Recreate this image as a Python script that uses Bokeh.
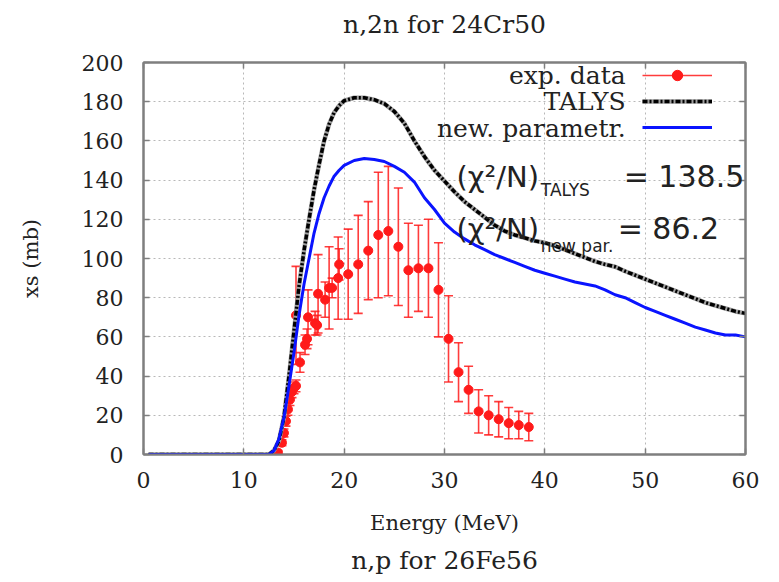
from bokeh.plotting import figure
from bokeh.models import (Range1d, FixedTicker, LinearAxis, Legend, LegendItem,
                          Label, Title)
from bokeh.embed import file_html
from bokeh.resources import INLINE

# ---------------- data ----------------
exp_energy = [13.4, 13.8, 14.0, 14.2, 14.4, 14.6, 14.8, 15.0, 15.2, 15.2, 15.6,
              16.1, 16.3, 16.4, 17.1, 17.3, 17.4, 18.1, 18.5, 18.8, 19.4, 19.5,
              20.4, 21.4, 22.4, 23.4, 24.4, 25.4, 26.4, 27.4, 28.4, 29.4, 30.4,
              31.4, 32.4, 33.4, 34.4, 35.4, 36.4, 37.4, 38.4]
exp_xs = [1, 6, 11, 17, 23, 28, 32, 34, 35, 71, 47,
          56, 59, 70, 67, 66, 82, 79, 85, 85, 90, 97,
          92, 97, 104, 112, 114, 106, 94, 95, 95, 84, 59,
          42, 33, 22, 20, 18, 16, 15, 14]
exp_err = [1, 1.5, 2, 2.5, 3, 3, 3, 3, 3, 25, 5,
           5, 5, 14, 6, 5, 20, 9, 21, 5, 21, 8,
           23, 25, 25, 32, 33, 30, 24, 22, 25, 24, 22,
           15, 12, 11, 10, 9, 8, 7, 7]

talys_energy = [0.5, 5, 10, 12.5, 13.0, 13.5, 14.0, 14.5, 15.0, 15.5, 16.0, 16.5,
                17.0, 17.5, 18.0, 18.5, 19.0, 19.5, 20.0, 21.0, 22.0, 23.0, 24.0,
                25.0, 26.0, 27.0, 28.0, 29.0, 30.0, 31.0, 32.0, 33.0, 34.0, 35.0,
                36.0, 37.0, 38.0, 39.0, 40.0, 41.0, 42.0, 43.0, 44.0, 45.0, 46.0,
                47.0, 48.0, 49.0, 50.0, 51.0, 52.0, 53.0, 54.0, 55.0, 56.0, 57.0,
                58.0, 59.0, 60.0]
talys_xs = [0, 0, 0, 0, 2, 7, 19, 40, 63, 86, 104, 120,
            135, 148, 160, 168.5, 174.5, 178, 180.5, 182, 182, 181, 179,
            175, 169, 160, 152, 145, 139.5, 134, 129, 125, 121, 117,
            114, 112, 110.5, 109, 108, 106.5, 104.5, 102.5, 100.5, 98.5, 97,
            95.8, 93.5, 91.5, 89.5, 87.5, 85.5, 83.5, 81.5, 79.5, 77.5, 76,
            74.5, 73, 72]

newpar_energy = talys_energy
newpar_xs = [0, 0, 0, 0, 2, 8, 19, 35, 52, 71, 87, 100,
             113, 123, 131, 137, 142, 145, 147.5, 150, 151, 150.5, 149.5,
             147, 144, 139, 131, 125, 118, 113.5, 110, 107, 104.5, 102,
             100, 98, 96, 94, 92.5, 91, 89.5, 88, 87, 86, 84,
             81.5, 80, 77.5, 75, 73, 71, 69, 67, 65, 63.5, 62,
             61, 61, 60]

x_ticks = [0, 10, 20, 30, 40, 50, 60]
y_ticks = [0, 20, 40, 60, 80, 100, 120, 140, 160, 180, 200]

exp_lo = [v - e for v, e in zip(exp_xs, exp_err)]
exp_hi = [v + e for v, e in zip(exp_xs, exp_err)]

SERIF = "DejaVu Serif"
SANS = "DejaVu Sans"
INK = "#222222"

p = figure(width=771, height=580, output_backend="svg", toolbar_location=None,
           x_range=Range1d(0, 60), y_range=Range1d(0, 200),
           min_border_left=143, min_border_right=26, min_border_top=62,
           min_border_bottom=126)

p.title = Title(text="n,2n for 24Cr50", align="center", vertical_align="top",
                text_font=SERIF, text_font_size="25px", text_font_style="normal",
                text_color=INK, standoff=8)

p.background_fill_color = "white"
p.border_fill_color = "white"
p.outline_line_color = "#7f7f7f"
p.outline_line_width = 2

# grid
p.grid.grid_line_color = "#b8b8b8"
p.grid.grid_line_dash = "2 3"
p.grid.grid_line_width = 1
p.xgrid.ticker = FixedTicker(ticks=x_ticks)
p.ygrid.ticker = FixedTicker(ticks=y_ticks)

for ax, ticks in ((p.xaxis[0], x_ticks), (p.yaxis[0], y_ticks)):
    ax.ticker = FixedTicker(ticks=ticks)
    ax.axis_line_color = "#7f7f7f"
    ax.axis_line_width = 2
    ax.major_tick_line_color = "#7f7f7f"
    ax.major_tick_line_width = 1.5
    ax.major_tick_in = 6
    ax.major_tick_out = 0
    ax.minor_tick_line_color = None
    ax.major_label_text_font = SERIF
    ax.major_label_text_font_size = "22px"
    ax.major_label_text_color = INK
    ax.axis_label_text_font = SERIF
    ax.axis_label_text_font_size = "21px"
    ax.axis_label_text_font_style = "normal"
    ax.axis_label_text_color = INK

p.xaxis.axis_label = "Energy (MeV)"
p.xaxis.major_label_standoff = 17
p.xaxis.axis_label_standoff = 20
p.yaxis.axis_label = "xs (mb)"
p.yaxis.major_label_standoff = 20
p.yaxis.axis_label_standoff = 36


def plain_axis(ticks, tick_in, tick_out, visible):
    ax = LinearAxis(ticker=FixedTicker(ticks=ticks))
    ax.axis_line_color = "#7f7f7f" if visible else None
    ax.axis_line_width = 2
    ax.major_tick_line_color = "#7f7f7f" if visible else None
    ax.major_tick_line_width = 1.5
    ax.major_tick_in = tick_in
    ax.major_tick_out = tick_out
    ax.minor_tick_line_color = None
    ax.major_label_text_font_size = "1px"
    ax.major_label_text_color = None
    ax.major_label_standoff = 0
    return ax


# mirror ticks on top and right (labels not drawn)
p.add_layout(plain_axis(x_ticks, 6, 0, True), "above")
p.add_layout(plain_axis(y_ticks, 6, 0, True), "right")
# invisible spacers that keep the titles at their places
p.add_layout(plain_axis(x_ticks, 0, 18, False), "above")
p.add_layout(plain_axis(x_ticks, 0, 6, False), "below")

p.add_layout(Title(text="n,p for 26Fe56", align="center", text_font=SERIF,
                   text_font_size="25px", text_font_style="normal",
                   text_color=INK, standoff=0), "below")

# ---------------- glyphs ----------------
RED = "#ff1a1a"
bars = p.segment(x0=exp_energy, y0=exp_lo, x1=exp_energy, y1=exp_hi,
                 line_color=RED, line_width=1.6, line_alpha=0.85)
p.scatter(x=exp_energy, y=exp_lo, marker="dash", size=9, line_color=RED,
          line_width=1.6, line_alpha=0.85)
p.scatter(x=exp_energy, y=exp_hi, marker="dash", size=9, line_color=RED,
          line_width=1.6, line_alpha=0.85)
pts = p.scatter(x=exp_energy, y=exp_xs, marker="circle", size=9,
                fill_color=RED, line_color=RED)

talys_bg = p.line(talys_energy, talys_xs, line_color="#a0a0a0", line_width=4.5)
talys_fg = p.line(talys_energy, talys_xs, line_color="black", line_width=3.5,
                  line_dash="5 2 2 2")
newpar = p.line(newpar_energy, newpar_xs, line_color="#0a14ff", line_width=3)

legend = Legend(items=[
    LegendItem(label=" ", renderers=[bars, pts]),
    LegendItem(label=" ", renderers=[talys_bg, talys_fg]),
    LegendItem(label=" ", renderers=[newpar]),
], location="top_right")
legend.glyph_width = 70
legend.glyph_height = 26
legend.spacing = 0
legend.padding = 0
legend.margin = 0
legend.label_standoff = 0
legend.label_width = 33
legend.label_height = 26
legend.label_text_font_size = "1px"
legend.label_text_color = None
legend.background_fill_alpha = 0
legend.border_line_alpha = 0
p.add_layout(legend)

# legend texts (gnuplot style: text left of sample)
for txt, yv in (("exp. data", 193.4), ("TALYS", 180.1), ("new. parametr.", 166.3)):
    p.add_layout(Label(x=48.05, y=yv, text=txt, text_align="right",
                       text_baseline="middle", text_font=SERIF,
                       text_font_size="25px", text_color=INK))

# chi-square annotations
chi_rows = [("TALYS", "= 138.5", 141.6, 134.7, 47.86),
            ("new par.", "= 86.2", 115.3, 106.6, 47.26)]
for sub, val, yb, ysub, xval in chi_rows:
    p.add_layout(Label(x=31.2, y=yb, text="(χ²/N)", text_align="left",
                       text_baseline="alphabetic", text_font=SANS,
                       text_font_size="29px", text_color=INK))
    p.add_layout(Label(x=39.6, y=ysub, text=sub, text_align="left",
                       text_baseline="alphabetic", text_font=SANS,
                       text_font_size="17px", text_color=INK))
    p.add_layout(Label(x=xval, y=yb, text=val, text_align="left",
                       text_baseline="alphabetic", text_font=SANS,
                       text_font_size="30px", text_color=INK))

open("out.html", "w").write(file_html(p, INLINE))
